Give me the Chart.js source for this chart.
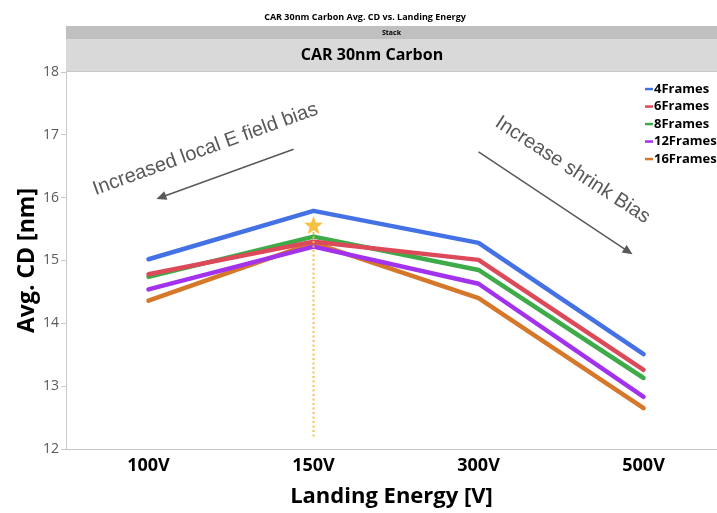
<!DOCTYPE html>
<html>
<head>
<meta charset="utf-8">
<title>CAR 30nm Carbon Avg. CD vs. Landing Energy</title>
<script src="https://cdn.jsdelivr.net/npm/chart.js@4.4.1/dist/chart.umd.min.js"></script>
<style>
    html, body { margin: 0; padding: 0; background: #fff; }
    #wrap { width: 717px; height: 513px; }
</style>
</head>
<body>
<div id="wrap"><canvas id="cdChart" width="717" height="513"></canvas></div>
<script>
// data
const energies = ['100V', '150V', '300V', '500V'];
const frames = ['4Frames', '6Frames', '8Frames', '12Frames', '16Frames'];
const cd4 = [15.02, 15.79, 15.28, 13.51];
const cd6 = [14.78, 15.30, 15.01, 13.26];
const cd8 = [14.74, 15.38, 14.85, 13.13];
const cd12 = [14.54, 15.22, 14.63, 12.83];
const cd16 = [14.36, 15.28, 14.40, 12.65];
const yTicks = [12, 13, 14, 15, 16, 17, 18];

// marker for the 150V point
const starPoint = { x: 1, y: 15.55 };
const dropLineEnd = 12.2;

// arrows and notes, in data units
const notes = [
    { text: 'Increased local E field bias', x: 0.345, y: 16.77, angle: -20 },
    { text: 'Increase shrink Bias', x: 2.57, y: 16.44, angle: 33 }
];
const arrows = [
    { from: [0.879, 16.77], to: [0.048, 15.98] },
    { from: [2.0, 16.73], to: [2.933, 15.10] }
];

const seriesColors = ['#4472e4', '#dc4a5a', '#3cab48', '#a332ec', '#d6782a'];
const FONT = "'Open Sans', 'Noto Sans', sans-serif";
const NOTE_FONT = "'Liberation Sans', Arial, sans-serif";

const series = [cd4, cd6, cd8, cd12, cd16];

const datasets = series.map((vals, i) => ({
    label: frames[i],
    data: vals.map((v, k) => ({ x: k, y: v })),
    borderColor: seriesColors[i],
    backgroundColor: seriesColors[i],
    borderWidth: 4.5,
    borderCapStyle: 'round',
    borderJoinStyle: 'round',
    pointRadius: 0,
    tension: 0
}));

// header bands, notes, star and legend
const decorPlugin = {
    id: 'decor',
    beforeDraw(chart) {
        const { ctx, chartArea } = chart;
        const l = chartArea.left, r = chartArea.right;
        ctx.save();
        ctx.fillStyle = '#c0c0c0';
        ctx.fillRect(l, 26, r - l, 13);
        ctx.fillStyle = '#d9d9d9';
        ctx.fillRect(l, 39, r - l, chartArea.top - 39);
        ctx.fillStyle = '#c8c8c8';
        ctx.fillRect(l, chartArea.top - 1, r - l, 1);

        ctx.fillStyle = '#000';
        ctx.textAlign = 'center';
        ctx.textBaseline = 'middle';
        ctx.font = 'bold 9px ' + FONT;
        ctx.fillText('CAR 30nm Carbon Avg. CD vs. Landing Energy', 365, 17);
        ctx.font = 'bold 7px ' + FONT;
        ctx.fillText('Stack', (l + r) / 2, 32.5);
        ctx.font = 'bold 16px ' + FONT;
        ctx.fillText('CAR 30nm Carbon', 372, 55);
        ctx.restore();
    },
    afterDatasetsDraw(chart) {
        const { ctx, chartArea } = chart;
        const xs = chart.scales.x, ys = chart.scales.y;
        ctx.save();

        // dotted drop line + star
        const sx = xs.getPixelForValue(starPoint.x);
        const sy = ys.getPixelForValue(starPoint.y);
        ctx.strokeStyle = '#f5c342';
        ctx.lineWidth = 2;
        ctx.setLineDash([2, 2.5]);
        ctx.beginPath();
        ctx.moveTo(sx, sy + 6);
        ctx.lineTo(sx, ys.getPixelForValue(dropLineEnd));
        ctx.stroke();
        ctx.setLineDash([]);

        ctx.fillStyle = '#f7c244';
        ctx.beginPath();
        for (let i = 0; i < 10; i++) {
            const rad = i % 2 === 0 ? 10 : 4.2;
            const a = -Math.PI / 2 + i * Math.PI / 5;
            const px = sx + rad * Math.cos(a), py = sy + rad * Math.sin(a);
            if (i === 0) ctx.moveTo(px, py); else ctx.lineTo(px, py);
        }
        ctx.closePath();
        ctx.fill();

        // arrows
        ctx.strokeStyle = '#595959';
        ctx.fillStyle = '#595959';
        ctx.lineWidth = 1.5;
        arrows.forEach(a => {
            const x1 = xs.getPixelForValue(a.from[0]), y1 = ys.getPixelForValue(a.from[1]);
            const x2 = xs.getPixelForValue(a.to[0]), y2 = ys.getPixelForValue(a.to[1]);
            const ang = Math.atan2(y2 - y1, x2 - x1);
            const hl = 10, hw = 4.5;
            ctx.beginPath();
            ctx.moveTo(x1, y1);
            ctx.lineTo(x2 - hl * 0.8 * Math.cos(ang), y2 - hl * 0.8 * Math.sin(ang));
            ctx.stroke();
            ctx.beginPath();
            ctx.moveTo(x2, y2);
            ctx.lineTo(x2 - hl * Math.cos(ang) + hw * Math.sin(ang), y2 - hl * Math.sin(ang) - hw * Math.cos(ang));
            ctx.lineTo(x2 - hl * Math.cos(ang) - hw * Math.sin(ang), y2 - hl * Math.sin(ang) + hw * Math.cos(ang));
            ctx.closePath();
            ctx.fill();
        });

        // rotated notes
        ctx.font = '20px ' + NOTE_FONT;
        ctx.textAlign = 'center';
        ctx.textBaseline = 'middle';
        notes.forEach(n => {
            ctx.save();
            ctx.translate(xs.getPixelForValue(n.x), ys.getPixelForValue(n.y));
            ctx.rotate(n.angle * Math.PI / 180);
            ctx.fillText(n.text, 0, 0);
            ctx.restore();
        });

        // legend, top right inside the plot
        ctx.font = 'bold 13px ' + FONT;
        ctx.textAlign = 'left';
        ctx.textBaseline = 'middle';
        const lx = chartArea.right - 63;
        chart.data.datasets.forEach((ds, i) => {
            const ly = chartArea.top + 17 + i * 17.5;
            ctx.fillStyle = ds.borderColor;
            ctx.fillRect(lx - 9, ly - 1.2, 8, 2.5);
            ctx.fillStyle = '#000';
            ctx.fillText(ds.label, lx, ly);
        });
        ctx.restore();
    }
};

const ctx = document.getElementById('cdChart');
new Chart(ctx, {
    type: 'line',
    data: { datasets: datasets },
    options: {
        responsive: false,
        animation: false,
        layout: { padding: { top: 72, left: 0, right: 0, bottom: 0 } },
        plugins: {
            legend: { display: false },
            tooltip: { enabled: false }
        },
        scales: {
            x: {
                type: 'linear',
                min: -0.5,
                max: 3.445,
                afterFit(scale) { scale.height = 64; },
                afterBuildTicks(scale) {
                    scale.ticks = energies.map((e, i) => ({ value: i }));
                },
                ticks: {
                    callback: (v) => energies[v],
                    color: '#000',
                    padding: 6,
                    maxRotation: 0,
                    autoSkip: false,
                    font: { family: FONT, size: 18, weight: 'bold' }
                },
                grid: { display: true, drawOnChartArea: false, drawTicks: false, color: '#c8c8c8' },
                border: { display: true, color: '#c8c8c8' },
                title: {
                    display: true,
                    text: 'Landing Energy [V]',
                    color: '#000',
                    padding: { top: 3, bottom: 3 },
                    font: { family: FONT, size: 22, weight: 'bold' }
                }
            },
            y: {
                min: 12,
                max: 18,
                afterFit(scale) { scale.width = 66; },
                afterBuildTicks(scale) {
                    scale.ticks = yTicks.map(v => ({ value: v }));
                },
                ticks: {
                    color: '#595959',
                    padding: 2,
                    font: { family: FONT, size: 14 }
                },
                grid: { display: true, drawOnChartArea: false, drawTicks: true, tickLength: 5, color: '#c8c8c8' },
                border: { display: true, color: '#c8c8c8' },
                title: {
                    display: true,
                    text: 'Avg. CD [nm]',
                    color: '#000',
                    padding: { top: 14, bottom: 14 },
                    font: { family: FONT, size: 23, weight: 'bold' }
                }
            }
        }
    },
    plugins: [decorPlugin]
});
</script>
</body>
</html>
